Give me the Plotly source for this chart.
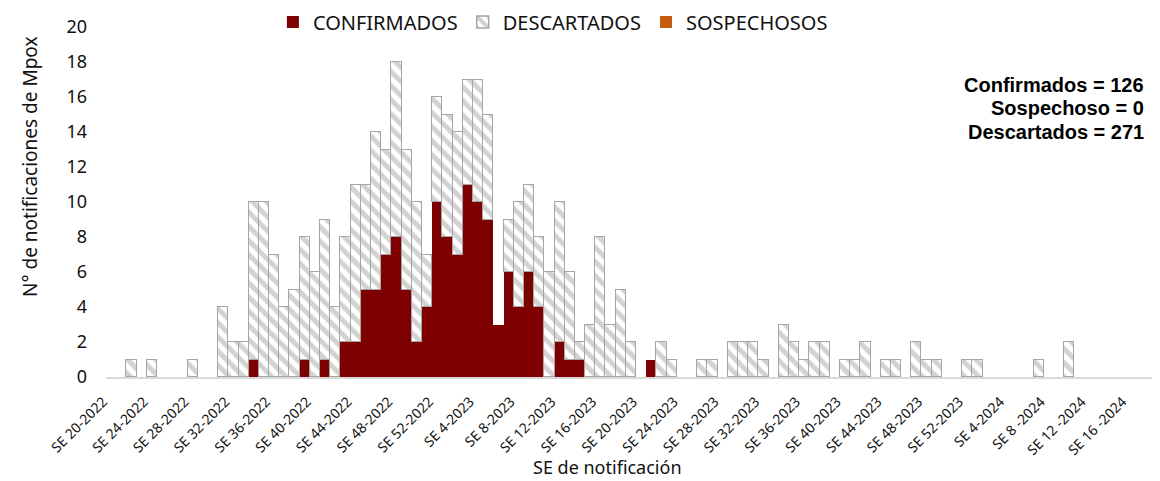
import plotly.graph_objects as go

# Epidemiological weeks SE 20-2022 ... SE 16-2024 (101 weeks)
weeks = list(range(20, 53)) + list(range(1, 53)) + list(range(1, 17))
years = [2022] * 33 + [2023] * 52 + [2024] * 16
categories = [f"SE {w}-{y}" for w, y in zip(weeks, years)]

confirmados = [
    0, 0, 0, 0, 0, 0, 0, 0, 0, 0,
    0, 0, 0, 0, 1, 0, 0, 0, 0, 1,
    0, 1, 0, 2, 2, 5, 5, 7, 8, 5,
    2, 4, 10, 8, 7, 11, 10, 9, 3, 6,
    4, 6, 4, 0, 2, 1, 1, 0, 0, 0,
    0, 0, 0, 1, 0, 0, 0, 0, 0, 0,
    0, 0, 0, 0, 0, 0, 0, 0, 0, 0,
    0, 0, 0, 0, 0, 0, 0, 0, 0, 0,
    0, 0, 0, 0, 0, 0, 0, 0, 0, 0,
    0, 0, 0, 0, 0, 0, 0, 0, 0, 0,
    0,
]
descartados = [
    0, 0, 1, 0, 1, 0, 0, 0, 1, 0,
    0, 4, 2, 2, 9, 10, 7, 4, 5, 7,
    6, 8, 4, 6, 9, 6, 9, 6, 10, 8,
    8, 3, 6, 7, 7, 6, 7, 6, 0, 3,
    6, 5, 4, 6, 8, 5, 1, 3, 8, 3,
    5, 2, 0, 0, 2, 1, 0, 0, 1, 1,
    0, 2, 2, 2, 1, 0, 3, 2, 1, 2,
    2, 0, 1, 1, 2, 0, 1, 1, 0, 2,
    1, 1, 0, 0, 1, 1, 0, 0, 0, 0,
    0, 1, 0, 0, 2, 0, 0, 0, 0, 0,
    0,
]
sospechosos = [0] * 101

tick_labels = [
    "SE 20-2022", "SE 24-2022", "SE 28-2022", "SE 32-2022", "SE 36-2022",
    "SE 40-2022", "SE 44-2022", "SE 48-2022", "SE 52-2022", "SE 4-2023",
    "SE 8-2023", "SE 12-2023", "SE 16-2023", "SE 20-2023", "SE 24-2023",
    "SE 28-2023", "SE 32-2023", "SE 36-2023", "SE 40-2023", "SE 44-2023",
    "SE 48-2023", "SE 52-2023", "SE 4-2024", "SE 8 -2024", "SE 12 -2024",
    "SE 16 -2024",
]
tick_vals = categories[::4]

totals_text = ["Confirmados = 126", "Sospechoso = 0", "Descartados = 271"]


def nz(vals):
    return [v if v else None for v in vals]


GRAY = "#A6A6A6"
fig = go.Figure()
fig.add_trace(go.Bar(
    x=categories, y=nz(confirmados), name="CONFIRMADOS",
    marker=dict(color="#7F0000", line=dict(width=0)),
))
fig.add_trace(go.Bar(
    x=categories, y=nz(descartados), name="DESCARTADOS",
    marker=dict(
        color="white",
        line=dict(color=GRAY, width=1.5),
        pattern=dict(shape="\\", fgcolor=GRAY, bgcolor="white", size=10, solidity=0.5),
    ),
))
fig.add_trace(go.Bar(
    x=categories, y=nz(sospechosos), name="SOSPECHOSOS",
    marker=dict(color="#C55A11", line=dict(width=0)),
))

# page body has an 8px margin: figure is sized so the plot lands where the reference has it
fig.update_layout(
    width=1152, height=473,
    barmode="stack", bargap=0,
    plot_bgcolor="white", paper_bgcolor="white",
    margin=dict(l=98, r=0, t=19, b=104, autoexpand=False),
    font=dict(family="Noto Sans", color="#111111"),
    legend=dict(
        orientation="h", x=0.424, xanchor="center", y=1.014, yanchor="middle",
        font=dict(size=20, family="Noto Sans"), traceorder="normal",
        bgcolor="rgba(0,0,0,0)",
    ),
    showlegend=True,
)
fig.update_xaxes(
    type="category", categoryorder="array", categoryarray=categories,
    range=[-0.5, 102.9],
    tickmode="array", tickvals=tick_vals, ticktext=tick_labels,
    tickangle=-45, tickfont=dict(size=14), ticklabelshift=-8, ticklabelstandoff=9,
    showline=True, linecolor="#D9D9D9", linewidth=2,
    showgrid=False, ticks="",
)
fig.update_yaxes(
    range=[0, 20], dtick=2, tick0=0,
    showgrid=False, showline=False, zeroline=False,
    tickfont=dict(size=18), ticklabelstandoff=18,
)

fig.add_annotation(
    text="SE de notificación", xref="paper", yref="paper",
    x=0.476, y=-0.257, xanchor="center", yanchor="middle",
    showarrow=False, font=dict(size=18),
)
fig.add_annotation(
    text="N° de notificaciones de Mpox", xref="paper", yref="paper",
    x=-0.0721, y=0.6, xanchor="center", yanchor="middle", textangle=-90,
    showarrow=False, font=dict(size=19),
)
for txt, yy in zip(totals_text, [0.834, 0.769, 0.70]):
    fig.add_annotation(
        text=f"<b>{txt}</b>", xref="paper", yref="paper",
        x=0.987, y=yy, xanchor="right", yanchor="middle",
        showarrow=False, font=dict(size=20, family="Liberation Sans", color="#000000"),
    )

fig.write_html("out.html")
